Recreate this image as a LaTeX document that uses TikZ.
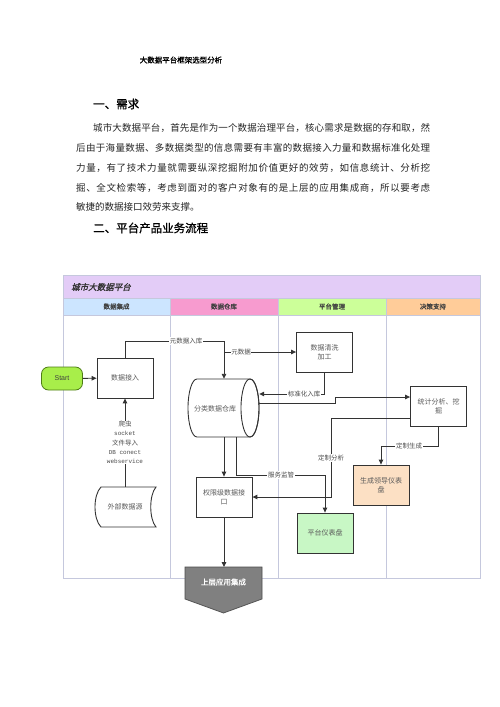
\documentclass[tikz,border=0pt]{standalone}
\usepackage{fontspec}
\setmainfont{Liberation Serif}
\newfontfamily\cjk{Noto Sans CJK SC}
\newfontfamily\cjkb{Noto Sans CJK SC}[FakeBold=1.2]
\newfontfamily\cjkit{Noto Sans CJK SC}[FakeSlant=0.25,FakeBold=1.5]
\newfontfamily\monof{Liberation Mono}
\newfontfamily\sansf{Liberation Sans}
\usetikzlibrary{arrows.meta}
\definecolor{titlebar}{HTML}{E3CCF7}
\definecolor{hblue}{HTML}{CCE5FF}
\definecolor{hpink}{HTML}{F79BCF}
\definecolor{hgreen}{HTML}{CCFF99}
\definecolor{horange}{HTML}{FFCC99}
\definecolor{lanec}{HTML}{C5C8DD}
\definecolor{startfill}{HTML}{A8EE4A}
\definecolor{startdraw}{HTML}{4E7D16}
\definecolor{leadfill}{HTML}{FCE0C4}
\definecolor{dashfill}{HTML}{C8F7C5}
\makeatletter
\def\spreadend{SPREADEND@@}
\def\spreadA#1{#1\spreadB}
\def\spreadB#1{\ifx#1\spreadend\else\hfil#1\expandafter\spreadB\fi}
\newcommand\spreadline[2]{\makebox[#1][s]{\spreadA#2\spreadend}}
\makeatother
\tikzset{
  box/.style={draw=black!80, line width=0.8pt, fill=white, minimum width=56pt, minimum height=40pt, inner sep=1pt, align=center, font=\cjk\fontsize{7}{9}\selectfont, text=black!65},
  conn/.style={draw=black!80, line width=0.9pt},
  arr/.style={conn, -{Triangle[length=5pt,width=4.5pt]}},
  lbl/.style={fill=white, inner sep=0.6pt, font=\cjk\fontsize{6.5}{7}\selectfont, text=black!70},
  lanehead/.style={minimum height=17pt, inner sep=0pt, font=\cjkb\fontsize{6.5}{7}\selectfont, text=black!75},
  lane/.style={draw=lanec, line width=0.6pt},
  para/.style={anchor=west, inner sep=0pt, font=\cjk\fontsize{9.5}{11}\selectfont, text=black!85},
  heading/.style={anchor=west, inner sep=0pt, font=\cjkb\fontsize{11.5}{13}\selectfont, text=black},
}
\begin{document}
\begin{tikzpicture}[x=1pt,y=-1pt]
\useasboundingbox[fill=white] (0,0) rectangle (500,707);

% ---- text part ----
\node[inner sep=0pt, font=\cjkb\fontsize{7.5}{9}\selectfont] (doctitle) at (181,60) {大数据平台框架选型分析};
\node[heading] (h1) at (93,104) {一、需求};
\node[para] (p1) at (93,128) {\spreadline{337pt}{城市大数据平台，首先是作为一个数据治理平台，核心需求是数据的存和取，然}};
\node[para] (p2) at (76,148) {\spreadline{354pt}{后由于海量数据、多数据类型的信息需要有丰富的数据接入力量和数据标准化处理}};
\node[para] (p3) at (76,168) {\spreadline{354pt}{力量，有了技术力量就需要纵深挖掘附加价值更好的效劳，如信息统计、分析挖}};
\node[para] (p4) at (76,188) {\spreadline{354pt}{掘、全文检索等，考虑到面对的客户对象有的是上层的应用集成商，所以要考虑}};
\node[para] (p5) at (76,207) {敏捷的数据接口效劳来支撑。};
\node[heading] (h2) at (93,228) {二、平台产品业务流程};

% ---- swimlane frame ----
\fill[titlebar] (63,275) rectangle (480,298);
\node[anchor=west, inner sep=0pt, font=\cjkit\fontsize{8.5}{10}\selectfont, text=black!80] (pool) at (71,287) {城市大数据平台};
\node[lanehead, fill=hblue, minimum width=107pt] (l1) at (116.5,306.5) {数据集成};
\node[lanehead, fill=hpink, minimum width=108pt] (l2) at (224,306.5) {数据仓库};
\node[lanehead, fill=hgreen, minimum width=108pt] (l3) at (332,306.5) {平台管理};
\node[lanehead, fill=horange, minimum width=94pt] (l4) at (433,306.5) {决策支持};
\draw[lane] (63,275) rectangle (480,578);
\draw[lane] (63,298) -- (480,298);
\draw[lane] (63,315) -- (480,315);
\draw[lane] (170,298) -- (170,578);
\draw[lane] (278,298) -- (278,578);
\draw[lane] (386,298) -- (386,578);

% ---- nodes ----
\node[draw=startdraw, line width=0.8pt, fill=startfill, rounded corners=7pt, minimum width=41pt, minimum height=23pt, inner sep=0pt, font=\sansf\fontsize{7}{8}\selectfont, text=black!75] (start) at (62,378.5) {Start};
\node[box] (ingest) at (125,378) {数据接入};
\node[box] (clean) at (324.5,352) {数据清洗\\加工};
\node[box] (stat) at (438.5,406) {统计分析、挖\\掘};
\node[box, fill=leadfill] (lead) at (381,485) {生成领导仪表\\盘};
\node[box] (auth) at (224,497) {权限级数据接\\口};
\node[box, fill=dashfill] (dash) at (325,533) {平台仪表盘};

% external data source (stored data shape)
\draw[conn, fill=white] (101,487) -- (156,487) .. controls (149,495) and (149,519) .. (156,527) -- (101,527) .. controls (93,519) and (93,495) .. (101,487) -- cycle;
\node[minimum width=55pt, minimum height=40pt, inner sep=0pt, font=\cjk\fontsize{7}{9}\selectfont, text=black!65] (ext) at (125,507) {外部数据源};

% warehouse cylinder (horizontal)
\draw[conn, fill=white] (197,379) -- (250,379) arc (-90:90:9 and 29) -- (197,437) arc (90:270:9 and 29) -- cycle;
\draw[conn] (250,408) ellipse (9 and 29);
\node[minimum width=71pt, minimum height=58pt, inner sep=0pt] (wh) at (223.5,408) {};
\node[inner sep=0pt, font=\cjk\fontsize{7}{9}\selectfont, text=black!65] (whtext) at (215,409) {分类数据仓库};

% output pentagon
\draw[draw=black!70, line width=0.7pt, fill=black!50] (185,567) -- (262,567) -- (262,599) -- (223.5,613) -- (185,599) -- cycle;
\node[inner sep=0pt, font=\cjkb\fontsize{7.5}{9}\selectfont, text=white] (app) at (223.5,582) {上层应用集成};

% ---- connectors ----
\draw[arr] (start) -- (ingest);
\draw[arr] (ext.north) -- (ingest.south);
\node[lbl, align=center, font=\cjk\fontsize{6.5}{9.3}\selectfont] (crawl) at (125,442.5) {爬虫\\{\monof\fontsize{6}{9.3}\selectfont socket}\\文件导入\\{\monof\fontsize{6}{9.3}\selectfont DB conect}\\{\monof\fontsize{6}{9.3}\selectfont webservice}};

\coordinate (m2) at (224,341);
\draw[arr] (ingest.north) |- (m2) -- (wh.north -| m2);
\node[lbl] (lm1) at (186,341) {元数据入库};

\coordinate (b1) at (224,352);
\draw[arr] (b1) -- (clean.west);
\node[lbl] (lm2) at (241,352) {元数据};

\coordinate (s1) at (324.5,394);
\draw[arr] (clean.south) -- (s1) -- (wh.east |- s1);
\node[lbl] (lm3) at (304,394) {标准化入库};

\coordinate (w1) at (259,403);
\coordinate (w2) at (335,403);
\coordinate (w3) at (335,397);
\draw[arr] (w1) -- (w2) -- (w3) -- (stat.west |- w3);

\coordinate (a1) at (410,418);
\coordinate (a2) at (331,418);
\coordinate (a3) at (331,497);
\draw[arr] (a1) -- (a2) -- (a3) -- (auth.east);
\node[lbl] (lm4) at (331,458) {定制分析};

\coordinate (g1) at (438.5,446);
\draw[arr] (stat.south) -- (g1) -| (lead.north);
\node[lbl] (lm5) at (409,446) {定制生成};

\coordinate (v1) at (236,437);
\coordinate (v2) at (236,475);
\draw[arr] (v1) -- (v2) -| (dash.north);
\node[lbl] (lm6) at (281,475) {服务监管};

\draw[arr] (wh.south -| auth.north) -- (auth.north);
\draw[arr] (auth.south) -- (224,567);
\end{tikzpicture}
\end{document}
